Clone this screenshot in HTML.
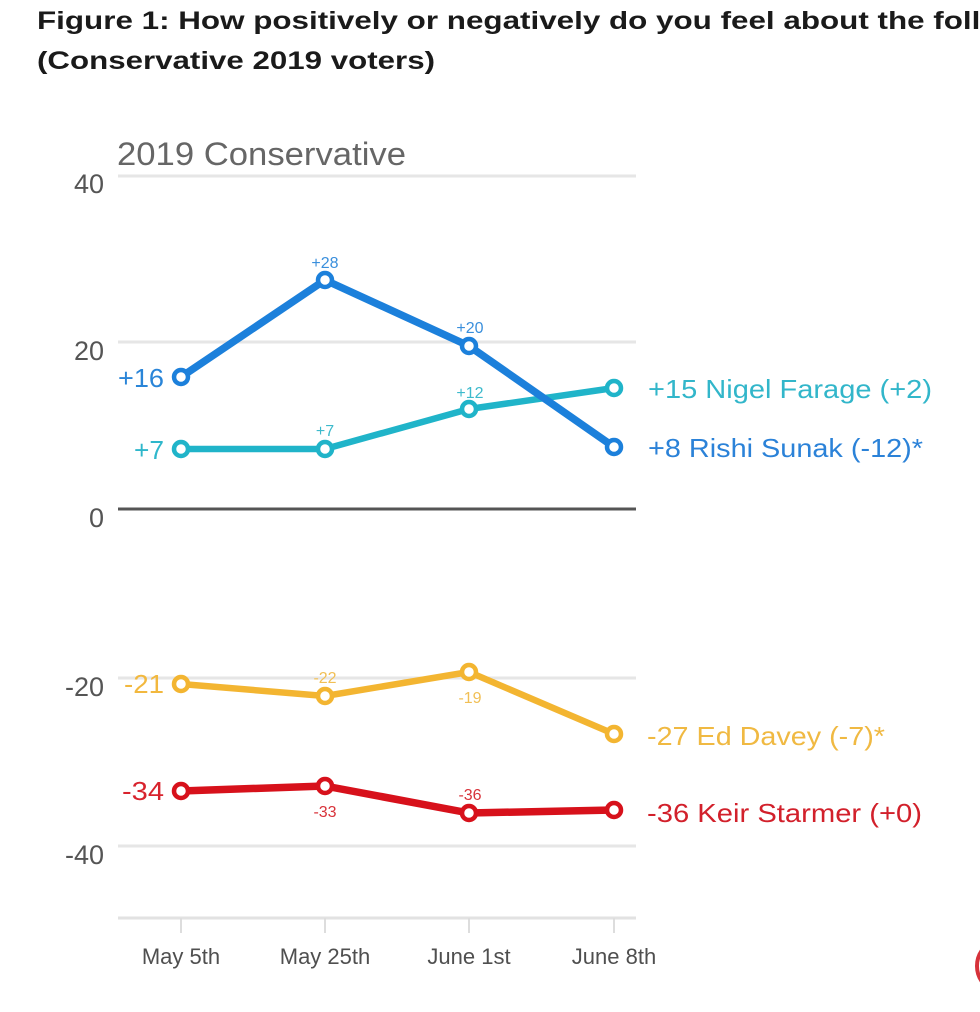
<!DOCTYPE html>
<html>
<head>
<meta charset="utf-8">
<style>
  html, body { margin: 0; padding: 0; background: #ffffff; }
  body { width: 980px; height: 1012px; overflow: hidden; }
  svg { display: block; font-family: "Liberation Sans", Arial, sans-serif; }
</style>
</head>
<body>
<svg width="980" height="1012" viewBox="0 0 980 1012" xmlns="http://www.w3.org/2000/svg">
  <rect x="0" y="0" width="980" height="1012" fill="#ffffff"/>

  <!-- Title -->
  <text x="37" y="29" font-size="25" font-weight="bold" fill="#1a1a1a" textLength="1034" lengthAdjust="spacingAndGlyphs">Figure 1: How positively or negatively do you feel about the following</text>
  <text x="37" y="69" font-size="25" font-weight="bold" fill="#1a1a1a" textLength="398" lengthAdjust="spacingAndGlyphs">(Conservative 2019 voters)</text>

  <!-- Chart subtitle -->
  <text x="117" y="165" font-size="32" fill="#666666" textLength="289" lengthAdjust="spacingAndGlyphs">2019 Conservative</text>

  <!-- Gridlines -->
  <g stroke="#e6e6e6" stroke-width="3">
    <line x1="118" y1="176" x2="636" y2="176"/>
    <line x1="118" y1="342" x2="636" y2="342"/>
    <line x1="118" y1="678" x2="636" y2="678"/>
    <line x1="118" y1="846" x2="636" y2="846"/>
  </g>
  <line x1="118" y1="918" x2="636" y2="918" stroke="#e2e2e2" stroke-width="3"/>
  <line x1="118" y1="509" x2="636" y2="509" stroke="#555555" stroke-width="3"/>

  <!-- Ticks -->
  <g stroke="#dddddd" stroke-width="2">
    <line x1="181" y1="918" x2="181" y2="933"/>
    <line x1="325" y1="918" x2="325" y2="933"/>
    <line x1="469" y1="918" x2="469" y2="933"/>
    <line x1="614" y1="918" x2="614" y2="933"/>
  </g>

  <!-- Y axis labels -->
  <g font-size="27" fill="#555555" text-anchor="end">
    <text x="104" y="193">40</text>
    <text x="104" y="360">20</text>
    <text x="104" y="527">0</text>
    <text x="104" y="696">-20</text>
    <text x="104" y="864">-40</text>
  </g>

  <!-- X axis labels -->
  <g font-size="22" fill="#4f4f4f" text-anchor="middle">
    <text x="181" y="964">May 5th</text>
    <text x="325" y="964">May 25th</text>
    <text x="469" y="964">June 1st</text>
    <text x="614" y="964">June 8th</text>
  </g>

  <!-- Series lines -->
  <polyline points="181,449 325,449 469,409 614,388" fill="none" stroke="#20b4c9" stroke-width="6.5" stroke-linejoin="round"/>
  <polyline points="181,377 325,280 469,346 614,447" fill="none" stroke="#1c80db" stroke-width="7.5" stroke-linejoin="round"/>
  <polyline points="181,684 325,696 469,672 614,734" fill="none" stroke="#f3b531" stroke-width="6.5" stroke-linejoin="round"/>
  <polyline points="181,791 325,786 469,813 614,810" fill="none" stroke="#d7111b" stroke-width="7.5" stroke-linejoin="round"/>

  <!-- Markers -->
  <g fill="#ffffff" stroke-width="4.5">
    <g stroke="#20b4c9">
      <circle cx="181" cy="449" r="7"/>
      <circle cx="325" cy="449" r="7"/>
      <circle cx="469" cy="409" r="7"/>
      <circle cx="614" cy="388" r="7"/>
    </g>
    <g stroke="#1c80db">
      <circle cx="181" cy="377" r="7"/>
      <circle cx="325" cy="280" r="7"/>
      <circle cx="469" cy="346" r="7"/>
      <circle cx="614" cy="447" r="7"/>
    </g>
    <g stroke="#f3b531">
      <circle cx="181" cy="684" r="7"/>
      <circle cx="325" cy="696" r="7"/>
      <circle cx="469" cy="672" r="7"/>
      <circle cx="614" cy="734" r="7"/>
    </g>
    <g stroke="#d7111b">
      <circle cx="181" cy="791" r="7"/>
      <circle cx="325" cy="786" r="7"/>
      <circle cx="469" cy="813" r="7"/>
      <circle cx="614" cy="810" r="7"/>
    </g>
  </g>

  <!-- Left start labels -->
  <g font-size="26" text-anchor="end">
    <text x="164" y="387" fill="#2a85d8" textLength="46" lengthAdjust="spacingAndGlyphs">+16</text>
    <text x="164" y="459" fill="#2fb7cb" textLength="30" lengthAdjust="spacingAndGlyphs">+7</text>
    <text x="164" y="693" fill="#f2b83e" textLength="40" lengthAdjust="spacingAndGlyphs">-21</text>
    <text x="164" y="800" fill="#d8232d" textLength="42" lengthAdjust="spacingAndGlyphs">-34</text>
  </g>

  <!-- Small point labels -->
  <g font-size="16" text-anchor="middle">
    <text x="325" y="268" fill="#3a8fdc">+28</text>
    <text x="470" y="333" fill="#3a8fdc">+20</text>
    <text x="470" y="398" fill="#3dbacc">+12</text>
    <text x="325" y="436" fill="#3dbacc">+7</text>
    <text x="325" y="683" fill="#f1bf55">-22</text>
    <text x="470" y="703" fill="#f1bf55">-19</text>
    <text x="325" y="817" fill="#d8323a">-33</text>
    <text x="470" y="800" fill="#d8323a">-36</text>
  </g>

  <!-- Right end labels -->
  <g font-size="26">
    <text x="648" y="398" fill="#32b6ca" textLength="284" lengthAdjust="spacingAndGlyphs">+15 Nigel Farage (+2)</text>
    <text x="648" y="457" fill="#2b82d8" textLength="275" lengthAdjust="spacingAndGlyphs">+8 Rishi Sunak (-12)*</text>
    <text x="647" y="745" fill="#f0b942" textLength="238" lengthAdjust="spacingAndGlyphs">-27 Ed Davey (-7)*</text>
    <text x="647" y="822" fill="#d2202b" textLength="275" lengthAdjust="spacingAndGlyphs">-36 Keir Starmer (+0)</text>
  </g>

  <!-- Partial red shape at bottom-right edge -->
  <circle cx="1004" cy="966" r="27" fill="none" stroke="#d6323a" stroke-width="4"/>
</svg>
</body>
</html>
